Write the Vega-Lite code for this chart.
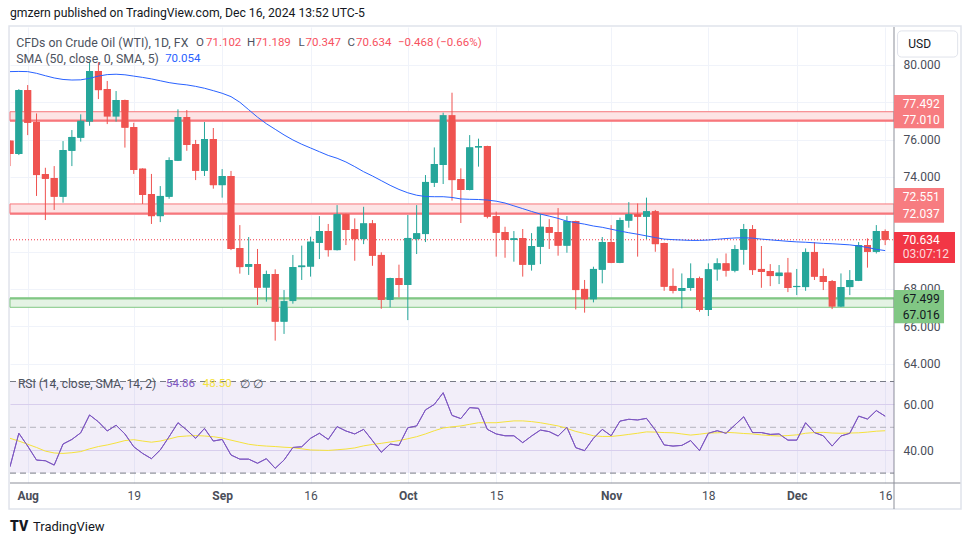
{
  "$schema": "https://vega.github.io/schema/vega-lite/v6.json",
  "width": 884,
  "height": 456,
  "autosize": {"type": "none"},
  "padding": {"left": 10, "top": 27, "right": 76, "bottom": 62},
  "background": "white",
  "config": {"view": {"stroke": null}, "font": "Roboto", "text": {"font": "Roboto"}},
  "datasets": {
    "bars": [
      {"i":0,"o":75.94,"h":75.96,"l":74.58,"c":75.23,"sma":79.64,"rsi":32.8,"rsima":45.2},
      {"i":1,"o":75.23,"h":78.70,"l":75.17,"c":78.65,"sma":79.65,"rsi":47.4,"rsima":44.0},
      {"i":2,"o":78.65,"h":78.92,"l":76.24,"c":76.90,"sma":79.64,"rsi":41.8,"rsima":42.6},
      {"i":3,"o":76.94,"h":77.40,"l":72.98,"c":74.10,"sma":79.55,"rsi":35.7,"rsima":41.2},
      {"i":4,"o":74.15,"h":74.49,"l":71.69,"c":73.90,"sma":79.42,"rsi":35.4,"rsima":39.6},
      {"i":5,"o":73.94,"h":74.58,"l":72.23,"c":72.94,"sma":79.30,"rsi":33.5,"rsima":38.8},
      {"i":6,"o":72.94,"h":75.92,"l":72.62,"c":75.44,"sma":79.22,"rsi":42.7,"rsima":38.6},
      {"i":7,"o":75.40,"h":76.51,"l":74.58,"c":76.14,"sma":79.19,"rsi":44.7,"rsima":38.9},
      {"i":8,"o":76.10,"h":77.35,"l":75.89,"c":77.01,"sma":79.20,"rsi":47.6,"rsima":39.4},
      {"i":9,"o":76.96,"h":80.17,"l":76.74,"c":79.67,"sma":79.28,"rsi":55.4,"rsima":40.6},
      {"i":10,"o":79.67,"h":80.15,"l":78.17,"c":78.65,"sma":79.40,"rsi":52.4,"rsima":41.6},
      {"i":11,"o":78.71,"h":79.14,"l":76.83,"c":77.23,"sma":79.48,"rsi":48.4,"rsima":42.3},
      {"i":12,"o":77.23,"h":78.60,"l":76.96,"c":78.12,"sma":79.50,"rsi":50.9,"rsima":43.2},
      {"i":13,"o":78.12,"h":78.14,"l":75.57,"c":76.64,"sma":79.47,"rsi":47.1,"rsima":44.2},
      {"i":14,"o":76.67,"h":76.90,"l":74.16,"c":74.37,"sma":79.40,"rsi":41.5,"rsima":44.6},
      {"i":15,"o":74.44,"h":74.46,"l":72.55,"c":73.03,"sma":79.33,"rsi":38.6,"rsima":44.0},
      {"i":16,"o":73.08,"h":74.16,"l":71.48,"c":71.90,"sma":79.25,"rsi":36.3,"rsima":43.5},
      {"i":17,"o":71.90,"h":73.51,"l":71.58,"c":72.98,"sma":79.15,"rsi":40.1,"rsima":44.0},
      {"i":18,"o":72.94,"h":75.05,"l":72.83,"c":74.90,"sma":79.05,"rsi":45.9,"rsima":44.9},
      {"i":19,"o":74.87,"h":77.62,"l":74.85,"c":77.21,"sma":78.98,"rsi":52.0,"rsima":45.9},
      {"i":20,"o":77.21,"h":77.58,"l":75.40,"c":75.71,"sma":78.93,"rsi":48.8,"rsima":46.2},
      {"i":21,"o":75.76,"h":75.98,"l":73.83,"c":74.33,"sma":78.85,"rsi":45.2,"rsima":46.4},
      {"i":22,"o":74.33,"h":76.94,"l":74.05,"c":76.03,"sma":78.75,"rsi":49.5,"rsima":46.2},
      {"i":23,"o":76.03,"h":76.62,"l":73.37,"c":73.56,"sma":78.62,"rsi":44.0,"rsima":45.9},
      {"i":24,"o":73.56,"h":74.42,"l":72.89,"c":74.05,"sma":78.48,"rsi":44.7,"rsima":45.3},
      {"i":25,"o":74.05,"h":74.32,"l":70.08,"c":70.14,"sma":78.30,"rsi":37.9,"rsima":44.4},
      {"i":26,"o":70.19,"h":71.42,"l":68.82,"c":69.17,"sma":78.00,"rsi":36.1,"rsima":43.5},
      {"i":27,"o":69.19,"h":70.78,"l":68.75,"c":69.33,"sma":77.60,"rsi":36.1,"rsima":42.6},
      {"i":28,"o":69.33,"h":70.14,"l":67.14,"c":68.07,"sma":77.20,"rsi":34.3,"rsima":42.1},
      {"i":29,"o":68.07,"h":68.98,"l":67.32,"c":68.80,"sma":76.85,"rsi":36.3,"rsima":41.8},
      {"i":30,"o":68.80,"h":69.05,"l":65.23,"c":66.25,"sma":76.55,"rsi":32.1,"rsima":41.6},
      {"i":31,"o":66.25,"h":67.94,"l":65.59,"c":67.35,"sma":76.25,"rsi":35.7,"rsima":41.3},
      {"i":32,"o":67.35,"h":69.82,"l":67.21,"c":69.17,"sma":75.98,"rsi":41.2,"rsima":41.1},
      {"i":33,"o":69.17,"h":70.32,"l":68.48,"c":69.25,"sma":75.75,"rsi":41.5,"rsima":40.6},
      {"i":34,"o":69.20,"h":70.80,"l":68.66,"c":70.53,"sma":75.55,"rsi":45.2,"rsima":40.1},
      {"i":35,"o":70.47,"h":71.90,"l":69.60,"c":71.10,"sma":75.35,"rsi":47.4,"rsima":40.0},
      {"i":36,"o":71.10,"h":71.48,"l":69.73,"c":70.08,"sma":75.15,"rsi":44.7,"rsima":39.9},
      {"i":37,"o":70.08,"h":72.49,"l":70.06,"c":72.01,"sma":75.00,"rsi":50.3,"rsima":40.2},
      {"i":38,"o":72.01,"h":72.03,"l":70.35,"c":71.16,"sma":74.80,"rsi":48.4,"rsima":40.5},
      {"i":39,"o":71.20,"h":71.78,"l":69.51,"c":70.67,"sma":74.55,"rsi":47.1,"rsima":41.0},
      {"i":40,"o":70.67,"h":72.40,"l":70.40,"c":71.51,"sma":74.28,"rsi":49.1,"rsima":41.9},
      {"i":41,"o":71.51,"h":71.69,"l":69.24,"c":69.78,"sma":74.05,"rsi":44.2,"rsima":42.5},
      {"i":42,"o":69.82,"h":69.96,"l":66.94,"c":67.41,"sma":73.80,"rsi":39.1,"rsima":43.0},
      {"i":43,"o":67.41,"h":68.60,"l":67.01,"c":68.58,"sma":73.55,"rsi":42.7,"rsima":43.6},
      {"i":44,"o":68.58,"h":69.30,"l":67.55,"c":68.21,"sma":73.33,"rsi":42.1,"rsima":44.2},
      {"i":45,"o":68.21,"h":71.96,"l":66.33,"c":70.73,"sma":73.15,"rsi":49.8,"rsima":45.0},
      {"i":46,"o":70.67,"h":72.49,"l":69.87,"c":70.98,"sma":73.02,"rsi":50.6,"rsima":45.9},
      {"i":47,"o":70.94,"h":74.10,"l":70.51,"c":73.73,"sma":72.95,"rsi":57.6,"rsima":47.1},
      {"i":48,"o":73.69,"h":75.58,"l":73.46,"c":74.69,"sma":72.94,"rsi":60.0,"rsima":48.5},
      {"i":49,"o":74.64,"h":77.44,"l":73.62,"c":77.31,"sma":72.94,"rsi":65.1,"rsima":49.7},
      {"i":50,"o":77.31,"h":78.51,"l":72.73,"c":73.83,"sma":72.90,"rsi":55.2,"rsima":50.2},
      {"i":51,"o":73.89,"h":74.46,"l":71.53,"c":73.30,"sma":72.82,"rsi":53.8,"rsima":50.6},
      {"i":52,"o":73.30,"h":76.24,"l":73.28,"c":75.58,"sma":72.80,"rsi":58.6,"rsima":51.3},
      {"i":53,"o":75.58,"h":76.05,"l":74.55,"c":75.65,"sma":72.79,"rsi":58.3,"rsima":52.0},
      {"i":54,"o":75.65,"h":75.67,"l":71.78,"c":71.87,"sma":72.76,"rsi":49.1,"rsima":52.0},
      {"i":55,"o":71.90,"h":72.14,"l":69.73,"c":71.01,"sma":72.70,"rsi":47.1,"rsima":52.0},
      {"i":56,"o":71.05,"h":71.33,"l":69.67,"c":70.62,"sma":72.60,"rsi":46.3,"rsima":52.4},
      {"i":57,"o":70.62,"h":71.10,"l":69.46,"c":70.71,"sma":72.45,"rsi":46.3,"rsima":52.8},
      {"i":58,"o":70.73,"h":71.21,"l":68.66,"c":69.30,"sma":72.30,"rsi":43.3,"rsima":52.8},
      {"i":59,"o":69.30,"h":70.99,"l":68.98,"c":70.30,"sma":72.15,"rsi":46.2,"rsima":52.5},
      {"i":60,"o":70.26,"h":72.01,"l":69.33,"c":71.33,"sma":72.01,"rsi":48.8,"rsima":52.0},
      {"i":61,"o":71.31,"h":71.74,"l":70.14,"c":71.01,"sma":71.90,"rsi":48.1,"rsima":51.3},
      {"i":62,"o":71.05,"h":72.33,"l":69.78,"c":70.32,"sma":71.78,"rsi":46.2,"rsima":50.6},
      {"i":63,"o":70.32,"h":71.90,"l":69.94,"c":71.64,"sma":71.63,"rsi":50.0,"rsima":49.5},
      {"i":64,"o":71.64,"h":71.66,"l":66.90,"c":67.94,"sma":71.55,"rsi":41.1,"rsima":48.2},
      {"i":65,"o":68.00,"h":68.48,"l":66.73,"c":67.44,"sma":71.47,"rsi":39.8,"rsima":47.3},
      {"i":66,"o":67.44,"h":69.19,"l":67.28,"c":69.07,"sma":71.37,"rsi":45.2,"rsima":46.3},
      {"i":67,"o":69.03,"h":70.78,"l":68.30,"c":70.51,"sma":71.30,"rsi":49.1,"rsima":46.0},
      {"i":68,"o":70.51,"h":71.42,"l":69.38,"c":69.40,"sma":71.20,"rsi":46.3,"rsima":46.0},
      {"i":69,"o":69.40,"h":71.82,"l":69.38,"c":71.69,"sma":71.10,"rsi":52.7,"rsima":46.4},
      {"i":70,"o":71.66,"h":72.65,"l":71.28,"c":72.01,"sma":71.01,"rsi":53.5,"rsima":46.9},
      {"i":71,"o":72.01,"h":72.58,"l":69.73,"c":71.87,"sma":70.93,"rsi":53.2,"rsima":47.4},
      {"i":72,"o":71.87,"h":72.89,"l":70.67,"c":72.17,"sma":70.84,"rsi":53.9,"rsima":48.0},
      {"i":73,"o":72.17,"h":72.23,"l":69.99,"c":70.40,"sma":70.75,"rsi":48.8,"rsima":47.9},
      {"i":74,"o":70.46,"h":70.48,"l":67.90,"c":68.12,"sma":70.67,"rsi":42.3,"rsima":47.7},
      {"i":75,"o":68.16,"h":69.10,"l":67.76,"c":67.90,"sma":70.64,"rsi":41.8,"rsima":47.6},
      {"i":76,"o":67.90,"h":68.83,"l":66.96,"c":68.05,"sma":70.62,"rsi":42.1,"rsima":47.1},
      {"i":77,"o":68.05,"h":69.37,"l":67.90,"c":68.57,"sma":70.60,"rsi":44.2,"rsima":46.6},
      {"i":78,"o":68.57,"h":68.66,"l":66.78,"c":66.87,"sma":70.60,"rsi":39.8,"rsima":47.0},
      {"i":79,"o":66.87,"h":69.37,"l":66.55,"c":69.05,"sma":70.62,"rsi":47.4,"rsima":47.5},
      {"i":80,"o":69.05,"h":69.64,"l":68.44,"c":69.37,"sma":70.66,"rsi":48.5,"rsima":47.6},
      {"i":81,"o":69.37,"h":69.90,"l":68.66,"c":68.98,"sma":70.70,"rsi":47.4,"rsima":47.8},
      {"i":82,"o":68.98,"h":70.35,"l":68.89,"c":70.14,"sma":70.73,"rsi":51.0,"rsima":47.6},
      {"i":83,"o":70.10,"h":71.48,"l":69.30,"c":71.21,"sma":70.74,"rsi":54.6,"rsima":47.3},
      {"i":84,"o":71.21,"h":71.42,"l":68.75,"c":69.01,"sma":70.72,"rsi":47.7,"rsima":47.1},
      {"i":85,"o":69.07,"h":70.30,"l":68.06,"c":68.91,"sma":70.67,"rsi":47.7,"rsima":46.7},
      {"i":86,"o":68.96,"h":69.33,"l":68.15,"c":68.69,"sma":70.63,"rsi":46.9,"rsima":46.4},
      {"i":87,"o":68.69,"h":69.28,"l":68.26,"c":68.87,"sma":70.59,"rsi":47.1,"rsima":46.2},
      {"i":88,"o":68.87,"h":69.66,"l":67.83,"c":68.05,"sma":70.55,"rsi":44.4,"rsima":46.4},
      {"i":89,"o":68.10,"h":69.07,"l":67.67,"c":68.16,"sma":70.52,"rsi":44.4,"rsima":46.7},
      {"i":90,"o":68.10,"h":70.17,"l":67.90,"c":69.98,"sma":70.50,"rsi":52.0,"rsima":47.4},
      {"i":91,"o":69.98,"h":70.51,"l":68.48,"c":68.66,"sma":70.47,"rsi":47.7,"rsima":47.7},
      {"i":92,"o":68.69,"h":69.10,"l":67.94,"c":68.37,"sma":70.44,"rsi":46.3,"rsima":47.8},
      {"i":93,"o":68.42,"h":68.48,"l":66.92,"c":67.05,"sma":70.42,"rsi":41.8,"rsima":47.5},
      {"i":94,"o":67.05,"h":68.83,"l":67.03,"c":68.10,"sma":70.39,"rsi":46.2,"rsima":47.4},
      {"i":95,"o":68.10,"h":69.01,"l":67.67,"c":68.48,"sma":70.36,"rsi":47.4,"rsima":47.5},
      {"i":96,"o":68.44,"h":70.51,"l":68.42,"c":70.35,"sma":70.30,"rsi":54.9,"rsima":47.6},
      {"i":97,"o":70.35,"h":70.71,"l":69.14,"c":69.99,"sma":70.22,"rsi":53.6,"rsima":47.9},
      {"i":98,"o":69.99,"h":71.42,"l":69.90,"c":71.10,"sma":70.12,"rsi":57.3,"rsima":48.3},
      {"i":99,"o":71.102,"h":71.189,"l":70.347,"c":70.634,"sma":70.054,"rsi":54.86,"rsima":48.5}
    ],
    "zones": [
      {"zone":"R1","kind":"res","lo":77.010,"hi":77.492},
      {"zone":"R2","kind":"res","lo":72.037,"hi":72.551},
      {"zone":"S1","kind":"sup","lo":67.016,"hi":67.499}
    ]
  },
  "layer": [
    {
      "layer": [
        {
          "data": {"name": "bars"},
          "mark": {"type": "bar", "size": 7, "clip": true},
          "encoding": {
            "x": {"field": "i", "type": "quantitative", "scale": {"domain": [0, 100], "nice": false, "zero": false, "padding": 0}},
            "y": {"field": "o", "type": "quantitative", "scale": {"domain": [57.605, 82.03], "nice": false, "zero": false},
              "axis": {"orient": "right", "values": [64, 66, 68, 70, 72, 74, 76, 78, 80], "format": ".3f", "labelExpr": "indexof([70, 72, 78], datum.value) >= 0 ? '' : datum.label", "grid": true, "gridColor": "#f0f3fa", "gridWidth": 1, "domain": false, "ticks": false, "tickSize": 0, "labelPadding": 9, "labelAlign": "left", "labelFontSize": 12, "labelColor": "#4a4e59", "labelFont": "Roboto", "title": null}},
            "y2": {"field": "c"},
            "color": {"condition": {"test": "datum.c >= datum.o", "value": "#26a69a"}, "value": "#ef5350"}
          }
        },
        {
          "data": {"values": [{}]},
          "mark": {"type": "rect", "filled": false, "stroke": "#e0e3eb", "strokeWidth": 1.5},
          "encoding": {
            "x": {"datum": -0.11, "type": "quantitative", "scale": {"domain": [0, 100], "nice": false, "zero": false, "padding": 0}},
            "x2": {"datum": 107.58},
            "y": {"datum": 82.08, "type": "quantitative", "scale": {"domain": [57.605, 82.03], "nice": false, "zero": false}},
            "y2": {"datum": 56.21}
          }
        },
        {
          "data": {"name": "zones"},
          "mark": {"type": "rect", "strokeWidth": 1},
          "encoding": {
            "x": {"datum": 0, "type": "quantitative", "scale": {"domain": [0, 100], "nice": false, "zero": false, "padding": 0}},
            "x2": {"datum": 100},
            "y": {"field": "lo", "type": "quantitative", "scale": {"domain": [57.605, 82.03], "nice": false, "zero": false}},
            "y2": {"field": "hi"},
            "fill": {"field": "kind", "type": "nominal", "scale": {"domain": ["res", "sup"], "range": ["#fde4e5", "#e4f3e4"]}, "legend": null},
            "stroke": {"field": "kind", "type": "nominal", "scale": {"domain": ["res", "sup"], "range": ["#f7777c", "#81c784"]}, "legend": null}
          }
        },
        {
          "data": {"name": "zones"},
          "transform": [{"filter": "datum.kind == 'res'"}],
          "mark": {"type": "rule", "color": "#f7777c", "strokeWidth": 2.2},
          "encoding": {
            "x": {"datum": 0, "type": "quantitative", "scale": {"domain": [0, 100], "nice": false, "zero": false, "padding": 0}},
            "x2": {"datum": 100},
            "y": {"field": "lo", "type": "quantitative", "scale": {"domain": [57.605, 82.03], "nice": false, "zero": false}}
          }
        },
        {
          "data": {"name": "zones"},
          "transform": [{"filter": "datum.kind == 'sup'"}],
          "mark": {"type": "rule", "color": "#81c784", "strokeWidth": 2.2},
          "encoding": {
            "x": {"datum": 0, "type": "quantitative", "scale": {"domain": [0, 100], "nice": false, "zero": false, "padding": 0}},
            "x2": {"datum": 100},
            "y": {"field": "hi", "type": "quantitative", "scale": {"domain": [57.605, 82.03], "nice": false, "zero": false}}
          }
        },
        {
          "data": {"name": "bars"},
          "transform": [{"filter": "datum.i == 99"}],
          "mark": {"type": "rule", "color": "#f23645", "strokeWidth": 1, "strokeDash": [1, 2]},
          "encoding": {
            "x": {"datum": 0, "type": "quantitative", "scale": {"domain": [0, 100], "nice": false, "zero": false, "padding": 0}},
            "x2": {"datum": 100},
            "y": {"field": "c", "type": "quantitative", "scale": {"domain": [57.605, 82.03], "nice": false, "zero": false}}
          }
        },
        {
          "data": {"name": "bars"},
          "mark": {"type": "rule", "strokeWidth": 1, "clip": true},
          "encoding": {
            "x": {"field": "i", "type": "quantitative", "scale": {"domain": [0, 100], "nice": false, "zero": false, "padding": 0}},
            "y": {"field": "l", "type": "quantitative", "scale": {"domain": [57.605, 82.03], "nice": false, "zero": false}},
            "y2": {"field": "h"},
            "color": {"condition": {"test": "datum.c >= datum.o", "value": "#26a69a"}, "value": "#ef5350"}
          }
        },
        {
          "data": {"name": "bars"},
          "mark": {"type": "bar", "size": 7, "clip": true},
          "encoding": {
            "x": {"field": "i", "type": "quantitative", "scale": {"domain": [0, 100], "nice": false, "zero": false, "padding": 0}},
            "y": {"field": "o", "type": "quantitative", "scale": {"domain": [57.605, 82.03], "nice": false, "zero": false}},
            "y2": {"field": "c"},
            "color": {"condition": {"test": "datum.c >= datum.o", "value": "#26a69a"}, "value": "#ef5350"}
          }
        },
        {
          "data": {"name": "bars"},
          "mark": {"type": "line", "color": "#2962ff", "strokeWidth": 1, "clip": true},
          "encoding": {
            "x": {"field": "i", "type": "quantitative", "scale": {"domain": [0, 100], "nice": false, "zero": false, "padding": 0}},
            "y": {"field": "sma", "type": "quantitative", "scale": {"domain": [57.605, 82.03], "nice": false, "zero": false}}
          }
        },
        {
          "data": {"values": [{}]},
          "mark": {"type": "rule", "color": "#8c8f99", "strokeWidth": 1},
          "encoding": {
            "x": {"datum": 100, "type": "quantitative", "scale": {"domain": [0, 100], "nice": false, "zero": false, "padding": 0}},
            "y": {"datum": 82.03, "type": "quantitative", "scale": {"domain": [57.605, 82.03], "nice": false, "zero": false}},
            "y2": {"datum": 56.21}
          }
        },
        {
          "data": {"values": [{}]},
          "mark": {"type": "rect", "fill": "white", "stroke": "#e0e3eb", "strokeWidth": 1, "cornerRadius": 4},
          "encoding": {
            "x": {"datum": 100.4, "type": "quantitative", "scale": {"domain": [0, 100], "nice": false, "zero": false, "padding": 0}},
            "x2": {"datum": 107.2},
            "y": {"datum": 81.82, "type": "quantitative", "scale": {"domain": [57.605, 82.03], "nice": false, "zero": false}},
            "y2": {"datum": 80.42}
          }
        },
        {
          "data": {"values": [{}]},
          "mark": {"type": "text", "text": "USD", "align": "center", "baseline": "middle", "fontSize": 12, "color": "#131722"},
          "encoding": {
            "x": {"datum": 102.9, "type": "quantitative", "scale": {"domain": [0, 100], "nice": false, "zero": false, "padding": 0}},
            "y": {"datum": 81.12, "type": "quantitative", "scale": {"domain": [57.605, 82.03], "nice": false, "zero": false}}
          }
        },
        {
          "data": {"values": [{}]},
          "mark": {"type": "rect", "fill": "#f77c80"},
          "encoding": {
            "x": {"datum": 100, "type": "quantitative", "scale": {"domain": [0, 100], "nice": false, "zero": false, "padding": 0}},
            "x2": {"datum": 105.66},
            "y": {"datum": 78.39, "type": "quantitative", "scale": {"domain": [57.605, 82.03], "nice": false, "zero": false}},
            "y2": {"datum": 76.60}
          }
        },
        {
          "data": {"values": [{}]},
          "mark": {"type": "rect", "fill": "#f77c80"},
          "encoding": {
            "x": {"datum": 100, "type": "quantitative", "scale": {"domain": [0, 100], "nice": false, "zero": false, "padding": 0}},
            "x2": {"datum": 105.66},
            "y": {"datum": 73.41, "type": "quantitative", "scale": {"domain": [57.605, 82.03], "nice": false, "zero": false}},
            "y2": {"datum": 71.55}
          }
        },
        {
          "data": {"values": [{}]},
          "mark": {"type": "rect", "fill": "#f23645"},
          "encoding": {
            "x": {"datum": 100, "type": "quantitative", "scale": {"domain": [0, 100], "nice": false, "zero": false, "padding": 0}},
            "x2": {"datum": 106.9},
            "y": {"datum": 71.05, "type": "quantitative", "scale": {"domain": [57.605, 82.03], "nice": false, "zero": false}},
            "y2": {"datum": 69.39}
          }
        },
        {
          "data": {"values": [{}]},
          "mark": {"type": "rect", "fill": "#81c784"},
          "encoding": {
            "x": {"datum": 100, "type": "quantitative", "scale": {"domain": [0, 100], "nice": false, "zero": false, "padding": 0}},
            "x2": {"datum": 105.66},
            "y": {"datum": 67.94, "type": "quantitative", "scale": {"domain": [57.605, 82.03], "nice": false, "zero": false}},
            "y2": {"datum": 66.16}
          }
        },
        {
          "data": {"values": [{}]},
          "mark": {"type": "text", "text": "77.492", "align": "left", "baseline": "middle", "fontSize": 12, "color": "white"},
          "encoding": {
            "x": {"datum": 101.0, "type": "quantitative", "scale": {"domain": [0, 100], "nice": false, "zero": false, "padding": 0}},
            "y": {"datum": 77.92, "type": "quantitative", "scale": {"domain": [57.605, 82.03], "nice": false, "zero": false}}
          }
        },
        {
          "data": {"values": [{}]},
          "mark": {"type": "text", "text": "77.010", "align": "left", "baseline": "middle", "fontSize": 12, "color": "white"},
          "encoding": {
            "x": {"datum": 101.0, "type": "quantitative", "scale": {"domain": [0, 100], "nice": false, "zero": false, "padding": 0}},
            "y": {"datum": 77.03, "type": "quantitative", "scale": {"domain": [57.605, 82.03], "nice": false, "zero": false}}
          }
        },
        {
          "data": {"values": [{}]},
          "mark": {"type": "text", "text": "72.551", "align": "left", "baseline": "middle", "fontSize": 12, "color": "white"},
          "encoding": {
            "x": {"datum": 101.0, "type": "quantitative", "scale": {"domain": [0, 100], "nice": false, "zero": false, "padding": 0}},
            "y": {"datum": 72.95, "type": "quantitative", "scale": {"domain": [57.605, 82.03], "nice": false, "zero": false}}
          }
        },
        {
          "data": {"values": [{}]},
          "mark": {"type": "text", "text": "72.037", "align": "left", "baseline": "middle", "fontSize": 12, "color": "white"},
          "encoding": {
            "x": {"datum": 101.0, "type": "quantitative", "scale": {"domain": [0, 100], "nice": false, "zero": false, "padding": 0}},
            "y": {"datum": 72.02, "type": "quantitative", "scale": {"domain": [57.605, 82.03], "nice": false, "zero": false}}
          }
        },
        {
          "data": {"values": [{}]},
          "mark": {"type": "text", "text": "70.634", "align": "left", "baseline": "middle", "fontSize": 12, "color": "white"},
          "encoding": {
            "x": {"datum": 101.0, "type": "quantitative", "scale": {"domain": [0, 100], "nice": false, "zero": false, "padding": 0}},
            "y": {"datum": 70.62, "type": "quantitative", "scale": {"domain": [57.605, 82.03], "nice": false, "zero": false}}
          }
        },
        {
          "data": {"values": [{}]},
          "mark": {"type": "text", "text": "03:07:12", "align": "left", "baseline": "middle", "fontSize": 12, "color": "#fcd9db"},
          "encoding": {
            "x": {"datum": 101.0, "type": "quantitative", "scale": {"domain": [0, 100], "nice": false, "zero": false, "padding": 0}},
            "y": {"datum": 69.86, "type": "quantitative", "scale": {"domain": [57.605, 82.03], "nice": false, "zero": false}}
          }
        },
        {
          "data": {"values": [{}]},
          "mark": {"type": "text", "text": "67.499", "align": "left", "baseline": "middle", "fontSize": 12, "color": "#131722"},
          "encoding": {
            "x": {"datum": 101.0, "type": "quantitative", "scale": {"domain": [0, 100], "nice": false, "zero": false, "padding": 0}},
            "y": {"datum": 67.48, "type": "quantitative", "scale": {"domain": [57.605, 82.03], "nice": false, "zero": false}}
          }
        },
        {
          "data": {"values": [{}]},
          "mark": {"type": "text", "text": "67.016", "align": "left", "baseline": "middle", "fontSize": 12, "color": "#131722"},
          "encoding": {
            "x": {"datum": 101.0, "type": "quantitative", "scale": {"domain": [0, 100], "nice": false, "zero": false, "padding": 0}},
            "y": {"datum": 66.58, "type": "quantitative", "scale": {"domain": [57.605, 82.03], "nice": false, "zero": false}}
          }
        },
        {
          "data": {"values": [{}]},
          "mark": {"type": "text", "text": "gmzern published on TradingView.com, Dec 16, 2024 13:52 UTC-5", "align": "left", "baseline": "middle", "fontSize": 12.2, "color": "#131722"},
          "encoding": {
            "x": {"datum": 0, "type": "quantitative", "scale": {"domain": [0, 100], "nice": false, "zero": false, "padding": 0}},
            "y": {"datum": 82.78, "type": "quantitative", "scale": {"domain": [57.605, 82.03], "nice": false, "zero": false}}
          }
        },
        {
          "data": {"values": [{}]},
          "mark": {"type": "text", "text": "CFDs on Crude Oil (WTI), 1D, FX", "align": "left", "baseline": "middle", "fontSize": 12.3, "color": "#4c525e"},
          "encoding": {
            "x": {"datum": 0.7, "type": "quantitative", "scale": {"domain": [0, 100], "nice": false, "zero": false, "padding": 0}},
            "y": {"datum": 81.19, "type": "quantitative", "scale": {"domain": [57.605, 82.03], "nice": false, "zero": false}}
          }
        },
        {
          "data": {"values": [{}]},
          "mark": {"type": "text", "text": "O", "align": "left", "baseline": "middle", "fontSize": 11.5, "color": "#4c525e"},
          "encoding": {
            "x": {"datum": 21.04, "type": "quantitative", "scale": {"domain": [0, 100], "nice": false, "zero": false, "padding": 0}},
            "y": {"datum": 81.19, "type": "quantitative", "scale": {"domain": [57.605, 82.03], "nice": false, "zero": false}}
          }
        },
        {
          "data": {"values": [{}]},
          "mark": {"type": "text", "text": "71.102", "align": "left", "baseline": "middle", "fontSize": 11.5, "color": "#f7525f"},
          "encoding": {
            "x": {"datum": 22.17, "type": "quantitative", "scale": {"domain": [0, 100], "nice": false, "zero": false, "padding": 0}},
            "y": {"datum": 81.19, "type": "quantitative", "scale": {"domain": [57.605, 82.03], "nice": false, "zero": false}}
          }
        },
        {
          "data": {"values": [{}]},
          "mark": {"type": "text", "text": "H", "align": "left", "baseline": "middle", "fontSize": 11.5, "color": "#4c525e"},
          "encoding": {
            "x": {"datum": 26.81, "type": "quantitative", "scale": {"domain": [0, 100], "nice": false, "zero": false, "padding": 0}},
            "y": {"datum": 81.19, "type": "quantitative", "scale": {"domain": [57.605, 82.03], "nice": false, "zero": false}}
          }
        },
        {
          "data": {"values": [{}]},
          "mark": {"type": "text", "text": "71.189", "align": "left", "baseline": "middle", "fontSize": 11.5, "color": "#f7525f"},
          "encoding": {
            "x": {"datum": 27.77, "type": "quantitative", "scale": {"domain": [0, 100], "nice": false, "zero": false, "padding": 0}},
            "y": {"datum": 81.19, "type": "quantitative", "scale": {"domain": [57.605, 82.03], "nice": false, "zero": false}}
          }
        },
        {
          "data": {"values": [{}]},
          "mark": {"type": "text", "text": "L", "align": "left", "baseline": "middle", "fontSize": 11.5, "color": "#4c525e"},
          "encoding": {
            "x": {"datum": 32.64, "type": "quantitative", "scale": {"domain": [0, 100], "nice": false, "zero": false, "padding": 0}},
            "y": {"datum": 81.19, "type": "quantitative", "scale": {"domain": [57.605, 82.03], "nice": false, "zero": false}}
          }
        },
        {
          "data": {"values": [{}]},
          "mark": {"type": "text", "text": "70.347", "align": "left", "baseline": "middle", "fontSize": 11.5, "color": "#f7525f"},
          "encoding": {
            "x": {"datum": 33.43, "type": "quantitative", "scale": {"domain": [0, 100], "nice": false, "zero": false, "padding": 0}},
            "y": {"datum": 81.19, "type": "quantitative", "scale": {"domain": [57.605, 82.03], "nice": false, "zero": false}}
          }
        },
        {
          "data": {"values": [{}]},
          "mark": {"type": "text", "text": "C", "align": "left", "baseline": "middle", "fontSize": 11.5, "color": "#4c525e"},
          "encoding": {
            "x": {"datum": 38.18, "type": "quantitative", "scale": {"domain": [0, 100], "nice": false, "zero": false, "padding": 0}},
            "y": {"datum": 81.19, "type": "quantitative", "scale": {"domain": [57.605, 82.03], "nice": false, "zero": false}}
          }
        },
        {
          "data": {"values": [{}]},
          "mark": {"type": "text", "text": "70.634", "align": "left", "baseline": "middle", "fontSize": 11.5, "color": "#f7525f"},
          "encoding": {
            "x": {"datum": 39.14, "type": "quantitative", "scale": {"domain": [0, 100], "nice": false, "zero": false, "padding": 0}},
            "y": {"datum": 81.19, "type": "quantitative", "scale": {"domain": [57.605, 82.03], "nice": false, "zero": false}}
          }
        },
        {
          "data": {"values": [{}]},
          "mark": {"type": "text", "text": "−0.468 (−0.66%)", "align": "left", "baseline": "middle", "fontSize": 11.5, "color": "#f7525f"},
          "encoding": {
            "x": {"datum": 43.89, "type": "quantitative", "scale": {"domain": [0, 100], "nice": false, "zero": false, "padding": 0}},
            "y": {"datum": 81.19, "type": "quantitative", "scale": {"domain": [57.605, 82.03], "nice": false, "zero": false}}
          }
        },
        {
          "data": {"values": [{}]},
          "mark": {"type": "text", "text": "SMA (50, close, 0, SMA, 5)", "align": "left", "baseline": "middle", "fontSize": 12.3, "color": "#4c525e"},
          "encoding": {
            "x": {"datum": 0.7, "type": "quantitative", "scale": {"domain": [0, 100], "nice": false, "zero": false, "padding": 0}},
            "y": {"datum": 80.32, "type": "quantitative", "scale": {"domain": [57.605, 82.03], "nice": false, "zero": false}}
          }
        },
        {
          "data": {"values": [{}]},
          "mark": {"type": "text", "text": "70.054", "align": "left", "baseline": "middle", "fontSize": 11.5, "color": "#2962ff"},
          "encoding": {
            "x": {"datum": 17.55, "type": "quantitative", "scale": {"domain": [0, 100], "nice": false, "zero": false, "padding": 0}},
            "y": {"datum": 80.32, "type": "quantitative", "scale": {"domain": [57.605, 82.03], "nice": false, "zero": false}}
          }
        }
      ]
    },
    {
      "layer": [
        {
          "data": {"name": "bars"},
          "mark": {"type": "line", "color": "#7e57c2", "strokeWidth": 1, "clip": true},
          "encoding": {
            "x": {"field": "i", "type": "quantitative", "scale": {"domain": [0, 100], "nice": false, "zero": false, "padding": 0},
              "axis": {"values": [2, 14, 24, 34, 45, 55, 68, 79, 89, 99], "labelExpr": "['Aug','19','Sep','16','Oct','15','Nov','18','Dec','16'][indexof([2,14,24,34,45,55,68,79,89,99], datum.value)]", "grid": true, "gridColor": "#f0f3fa", "domain": false, "ticks": false, "tickSize": 0, "labelPadding": 7, "labelFontSize": 12, "labelColor": "#4a4e59", "labelFont": "Roboto", "labelFontWeight": {"condition": {"test": "indexof([2,24,45,68,89], datum.value) >= 0", "value": "bold"}, "value": "normal"}, "title": null}},
            "y": {"field": "rsi", "type": "quantitative", "scale": {"domain": [25.68, 224.8], "nice": false, "zero": false},
              "axis": {"orient": "right", "values": [40, 60], "format": ".2f", "grid": true, "gridColor": "#e2dcf2", "domain": false, "ticks": false, "tickSize": 0, "labelPadding": 9, "labelAlign": "left", "labelFontSize": 12, "labelColor": "#4a4e59", "labelFont": "Roboto", "title": null}}
          }
        },
        {
          "data": {"values": [{}]},
          "mark": {"type": "rect", "fill": "#7e57c2", "opacity": 0.1},
          "encoding": {
            "x": {"datum": 0, "type": "quantitative", "scale": {"domain": [0, 100], "nice": false, "zero": false, "padding": 0}},
            "x2": {"datum": 100},
            "y": {"datum": 30, "type": "quantitative", "scale": {"domain": [25.68, 224.8], "nice": false, "zero": false}},
            "y2": {"datum": 70}
          }
        },
        {
          "data": {"values": [{}]},
          "mark": {"type": "rule", "color": "#787b86", "strokeWidth": 1, "strokeDash": [6, 4]},
          "encoding": {
            "x": {"datum": 0, "type": "quantitative", "scale": {"domain": [0, 100], "nice": false, "zero": false, "padding": 0}},
            "x2": {"datum": 100},
            "y": {"datum": 70, "type": "quantitative", "scale": {"domain": [25.68, 224.8], "nice": false, "zero": false}}
          }
        },
        {
          "data": {"values": [{}]},
          "mark": {"type": "rule", "color": "#787b86", "strokeWidth": 1, "strokeDash": [6, 4]},
          "encoding": {
            "x": {"datum": 0, "type": "quantitative", "scale": {"domain": [0, 100], "nice": false, "zero": false, "padding": 0}},
            "x2": {"datum": 100},
            "y": {"datum": 30, "type": "quantitative", "scale": {"domain": [25.68, 224.8], "nice": false, "zero": false}}
          }
        },
        {
          "data": {"values": [{}]},
          "mark": {"type": "rule", "color": "#787b86", "opacity": 0.5, "strokeWidth": 1, "strokeDash": [6, 4]},
          "encoding": {
            "x": {"datum": 0, "type": "quantitative", "scale": {"domain": [0, 100], "nice": false, "zero": false, "padding": 0}},
            "x2": {"datum": 100},
            "y": {"datum": 50, "type": "quantitative", "scale": {"domain": [25.68, 224.8], "nice": false, "zero": false}}
          }
        },
        {
          "data": {"name": "bars"},
          "mark": {"type": "line", "color": "#f5e23c", "strokeWidth": 1, "clip": true},
          "encoding": {
            "x": {"field": "i", "type": "quantitative", "scale": {"domain": [0, 100], "nice": false, "zero": false, "padding": 0}},
            "y": {"field": "rsima", "type": "quantitative", "scale": {"domain": [25.68, 224.8], "nice": false, "zero": false}}
          }
        },
        {
          "data": {"name": "bars"},
          "mark": {"type": "line", "color": "#7e57c2", "strokeWidth": 1, "clip": true},
          "encoding": {
            "x": {"field": "i", "type": "quantitative", "scale": {"domain": [0, 100], "nice": false, "zero": false, "padding": 0}},
            "y": {"field": "rsi", "type": "quantitative", "scale": {"domain": [25.68, 224.8], "nice": false, "zero": false}}
          }
        },
        {
          "data": {"values": [{}]},
          "mark": {"type": "rule", "color": "#8c8f99", "strokeWidth": 1},
          "encoding": {
            "x": {"datum": 0, "type": "quantitative", "scale": {"domain": [0, 100], "nice": false, "zero": false, "padding": 0}},
            "x2": {"datum": 107.5},
            "y": {"datum": 25.68, "type": "quantitative", "scale": {"domain": [25.68, 224.8], "nice": false, "zero": false}}
          }
        },
        {
          "data": {"values": [{}]},
          "mark": {"type": "text", "text": "RSI (14, close, SMA, 14, 2)", "align": "left", "baseline": "middle", "fontSize": 12, "color": "#4c525e"},
          "encoding": {
            "x": {"datum": 0.9, "type": "quantitative", "scale": {"domain": [0, 100], "nice": false, "zero": false, "padding": 0}},
            "y": {"datum": 68.9, "type": "quantitative", "scale": {"domain": [25.68, 224.8], "nice": false, "zero": false}}
          }
        },
        {
          "data": {"values": [{}]},
          "mark": {"type": "text", "text": "54.86", "align": "left", "baseline": "middle", "fontSize": 11.5, "color": "#7e57c2"},
          "encoding": {
            "x": {"datum": 17.65, "type": "quantitative", "scale": {"domain": [0, 100], "nice": false, "zero": false, "padding": 0}},
            "y": {"datum": 68.9, "type": "quantitative", "scale": {"domain": [25.68, 224.8], "nice": false, "zero": false}}
          }
        },
        {
          "data": {"values": [{}]},
          "mark": {"type": "text", "text": "48.50", "align": "left", "baseline": "middle", "fontSize": 11.5, "color": "#f5e23c"},
          "encoding": {
            "x": {"datum": 21.8, "type": "quantitative", "scale": {"domain": [0, 100], "nice": false, "zero": false, "padding": 0}},
            "y": {"datum": 68.9, "type": "quantitative", "scale": {"domain": [25.68, 224.8], "nice": false, "zero": false}}
          }
        },
        {
          "data": {"values": [{}]},
          "mark": {"type": "text", "text": "∅ ∅", "align": "left", "baseline": "middle", "fontSize": 12, "color": "#4c525e"},
          "encoding": {
            "x": {"datum": 26.0, "type": "quantitative", "scale": {"domain": [0, 100], "nice": false, "zero": false, "padding": 0}},
            "y": {"datum": 68.9, "type": "quantitative", "scale": {"domain": [25.68, 224.8], "nice": false, "zero": false}}
          }
        },
        {
          "data": {"values": [{}]},
          "mark": {"type": "text", "text": "TV", "align": "left", "baseline": "middle", "fontSize": 14, "fontWeight": 900, "color": "#131722"},
          "encoding": {
            "x": {"datum": 0, "type": "quantitative", "scale": {"domain": [0, 100], "nice": false, "zero": false, "padding": 0}},
            "y": {"datum": 6.46, "type": "quantitative", "scale": {"domain": [25.68, 224.8], "nice": false, "zero": false}}
          }
        },
        {
          "data": {"values": [{}]},
          "mark": {"type": "text", "text": "TradingView", "align": "left", "baseline": "middle", "fontSize": 13, "color": "#131722"},
          "encoding": {
            "x": {"datum": 2.6, "type": "quantitative", "scale": {"domain": [0, 100], "nice": false, "zero": false, "padding": 0}},
            "y": {"datum": 6.46, "type": "quantitative", "scale": {"domain": [25.68, 224.8], "nice": false, "zero": false}}
          }
        }
      ]
    }
  ],
  "resolve": {"scale": {"y": "independent"}, "axis": {"y": "independent"}}
}
